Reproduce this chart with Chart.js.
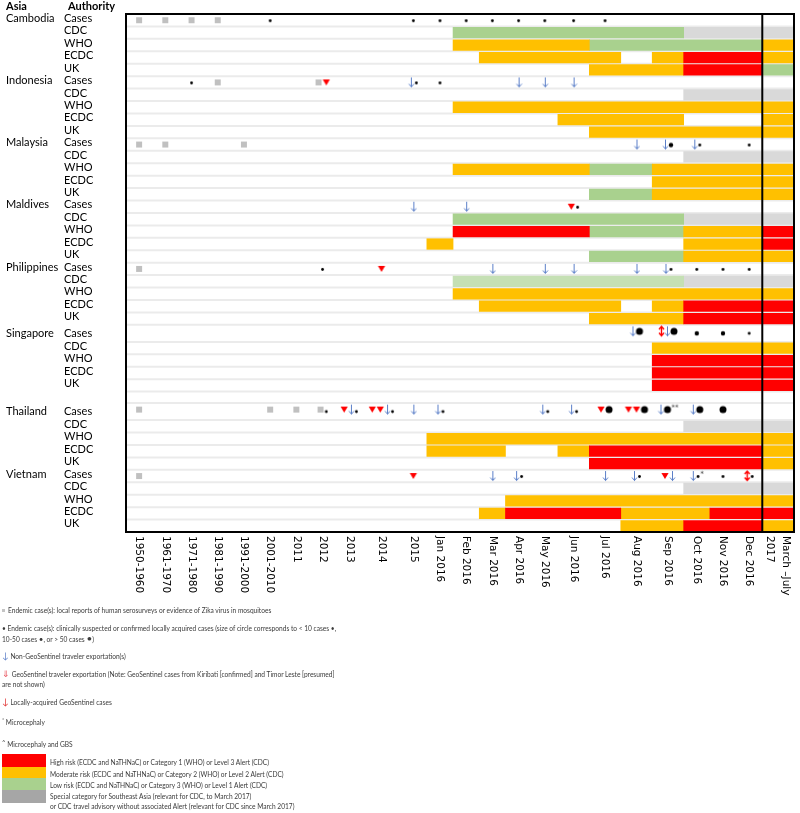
<!DOCTYPE html>
<html><head><meta charset="utf-8">
<script src="https://cdn.jsdelivr.net/npm/chart.js@4.4.1/dist/chart.umd.min.js"></script>
<style>
html,body{margin:0;padding:0;background:#fff;}
#wrap{position:relative;width:800px;height:813px;overflow:hidden;}
#c{position:absolute;left:0;top:0;}
.hdr{position:absolute;top:0px;font:bold 11px Lato,sans-serif;color:#000;line-height:12px;}
.note{position:absolute;font:6.6px Lato,sans-serif;color:#3a3a3a;white-space:nowrap;line-height:9px;}
.box{position:absolute;left:2px;width:44px;}
</style></head>
<body><div id="wrap"><canvas id="c" width="800" height="813"></canvas>
<div class="hdr" style="left:6px">Asia</div>
<div class="hdr" style="left:68px">Authority</div>

<div style="position:absolute;left:2px;top:609px;width:3px;height:3px;background:#c4c4c4"></div>
<div class="note" style="left:8px;top:606px">Endemic case(s): local reports of human serosurveys or evidence of Zika virus in mosquitoes</div>
<div class="note" style="left:2px;top:624px">• Endemic case(s): clinically suspected or confirmed locally acquired cases (size of circle corresponds to &lt; 10 cases •,</div>
<div class="note" style="left:2px;top:634px">10-50 cases <span style="font-size:8px">•</span>, or &gt; 50 cases <span style="font-size:10px;line-height:9px">•</span>)</div>
<div class="note" style="left:2px;top:651px"><span style="color:#5b7fc8;font-size:9px">↓</span> Non-GeoSentinel traveler exportation(s)</div>
<div class="note" style="left:2px;top:669px"><span style="color:#e8505b;font-size:9px">⇓</span> GeoSentinel traveler exportation (Note: GeoSentinel cases from Kiribati [confirmed] and Timor Leste [presumed]</div>
<div class="note" style="left:2px;top:680px">are not shown)</div>
<div class="note" style="left:2px;top:697px"><span style="color:#e03030;font-size:9px">↓</span> Locally-acquired GeoSentinel cases</div>
<div class="note" style="left:2px;top:716px"><span style="font-size:5px;vertical-align:3px">*</span> Microcephaly</div>
<div class="note" style="left:2px;top:737px"><span style="font-size:6px;vertical-align:3px">^</span> Microcephaly and GBS</div>

<div class="box" style="top:754px;height:13px;background:#ff0000"></div>
<div class="box" style="top:767px;height:11px;background:#ffc000"></div>
<div class="box" style="top:778px;height:12px;background:#a9d18e"></div>
<div class="box" style="top:790px;height:13px;background:#a6a6a6"></div>
<div class="note" style="left:50px;top:758px">High risk (ECDC and NaTHNaC) or Category 1 (WHO) or Level 3 Alert (CDC)</div>
<div class="note" style="left:50px;top:770px">Moderate risk (ECDC and NaTHNaC) or Category 2 (WHO) or Level 2 Alert (CDC)</div>
<div class="note" style="left:50px;top:781px">Low risk (ECDC and NaTHNaC) or Category 3 (WHO) or Level 1 Alert (CDC)</div>
<div class="note" style="left:50px;top:792px">Special category for Southeast Asia (relevant for CDC, to March 2017)</div>
<div class="note" style="left:50px;top:802px">or CDC travel advisory without associated Alert (relevant for CDC since March 2017)</div>
</div>
<script>
// ================= DATA =================
const columnLabels = ['1950-1960','1961-1970','1971-1980','1981-1990','1991-2000','2001-2010',
  '2011','2012','2013','2014','2015','Jan 2016','Feb 2016','Mar 2016','Apr 2016','May 2016',
  'Jun 2016','Jul 2016','Aug 2016','Sep 2016','Oct 2016','Nov 2016','Dec 2016',['March –July','2017']];
const countries = ['Cambodia','Indonesia','Malaysia','Maldives','Philippines','Singapore','Thailand','Vietnam'];
const authorities = ['Cases','CDC','WHO','ECDC','UK'];

// risk runs per country: [firstColumn, lastColumn, level]
// R = high, O = moderate, G = low, g = low (light shade), S = special category / advisory
const cdcRisk = [
  [[12,19,'G'],[20,23,'S']],
  [[20,23,'S']],
  [[20,23,'S']],
  [[12,19,'G'],[20,23,'S']],
  [[12,19,'g'],[20,23,'S']],
  [[19,23,'O']],
  [[20,23,'S']],
  [[20,23,'S']]
];
const whoRisk = [
  [[12,16,'O'],[17,22,'G'],[23,23,'O']],
  [[12,23,'O']],
  [[12,16,'O'],[17,18,'G'],[19,23,'O']],
  [[12,16,'R'],[17,19,'G'],[20,22,'O'],[23,23,'R']],
  [[12,23,'O']],
  [[19,23,'R']],
  [[11,23,'O']],
  [[14,23,'O']]
];
const ecdcRisk = [
  [[13,17,'O'],[19,19,'O'],[20,22,'R'],[23,23,'O']],
  [[16,19,'O'],[23,23,'O']],
  [[19,23,'O']],
  [[11,11,'O'],[20,22,'O'],[23,23,'R']],
  [[13,17,'O'],[19,19,'O'],[20,23,'R']],
  [[19,23,'R']],
  [[11,13,'O'],[16,16,'O'],[17,22,'R'],[23,23,'O']],
  [[13,13,'O'],[14,17,'R'],[18,20,'O'],[21,23,'R']]
];
const ukRisk = [
  [[17,19,'O'],[20,22,'R'],[23,23,'G']],
  [[17,23,'O']],
  [[17,18,'G'],[19,23,'O']],
  [[17,19,'G'],[20,23,'O']],
  [[17,19,'O'],[20,23,'R']],
  [[19,23,'R']],
  [[17,22,'R'],[23,23,'O']],
  [[18,19,'O'],[20,22,'R'],[23,23,'O']]
];
// case markers per country: [column, symbols]
// q serosurvey, s/m/l endemic cases (<10, 10-50, >50), a non-GeoSentinel exportation,
// d GeoSentinel exportation, t locally-acquired GeoSentinel case, * microcephaly
const caseMarks = [
  [[0,'q'],[1,'q'],[2,'q'],[3,'q'],[5,'s'],[10,'s'],[11,'s'],[12,'s'],[13,'s'],[14,'s'],[15,'s'],[16,'s'],[17,'s']],
  [[2,'s'],[3,'q'],[7,'qt'],[10,'as'],[11,'s'],[14,'a'],[15,'a'],[16,'a']],
  [[0,'q'],[1,'q'],[4,'q'],[18,'a'],[19,'am'],[20,'as'],[22,'s']],
  [[10,'a'],[12,'a'],[16,'ts']],
  [[0,'q'],[7,'s'],[9,'t'],[13,'a'],[15,'a'],[16,'a'],[18,'a'],[19,'as'],[20,'s'],[21,'s'],[22,'s']],
  [[18,'al'],[19,'dal'],[20,'m'],[21,'m'],[22,'s']],
  [[0,'q'],[5,'q'],[6,'q'],[7,'qs'],[8,'tas'],[9,'ttas'],[10,'a'],[11,'as'],[15,'as'],[16,'as'],[17,'tl'],[18,'ttl'],[19,'al**'],[20,'al'],[21,'l']],
  [[0,'q'],[10,'t'],[13,'a'],[14,'as'],[17,'a'],[18,'as'],[19,'ta'],[20,'as*'],[21,'s'],[22,'ds']]
];

// ================= LAYOUT / STYLE =================
const colWeights = [1,1,1,1,1,1,1,1,1.05,1.4,1.03,1,1,1,1,1,1.2,1.2,1.2,1.2,1,1,1,1.21];
const tallCaseRows = ['Singapore','Thailand'];
const gapAfter = ['Singapore'];
const levelColors = {R:'#ff0000', O:'#ffc000', G:'#a9d18e', g:'#c5e0b4', S:'#d9d9d9'};
const levelNames = {R:'High', O:'Moderate', G:'Low', g:'Low (light)', S:'Special'};

const colEdges = [0];
colWeights.forEach(w => colEdges.push(colEdges[colEdges.length - 1] + w));
const colCenter = i => (colEdges[i] + colEdges[i + 1]) / 2;

const rows = [];
let cursor = 0;
countries.forEach((c, ci) => {
  authorities.forEach((a, ai) => {
    const h = (ai === 0 && tallCaseRows.includes(c)) ? 1.37 : 1;
    rows.push({country: c, ci, auth: a, ai, top: cursor, bottom: cursor + h, center: cursor + h / 2,
      label: cursor + h / 2 - (h > 1 ? 0 : 0.15), tall: h > 1});
    cursor += h;
  });
  if (gapAfter.includes(c)) cursor += 0.92;
});
const totalRows = cursor;
const rowOf = (ci, ai) => rows.find(r => r.ci === ci && r.ai === ai);

// bars
const barData = {};
Object.keys(levelColors).forEach(k => barData[k] = []);
[cdcRisk, whoRisk, ecdcRisk, ukRisk].forEach((tbl, ti) => {
  tbl.forEach((runs, ci) => {
    const r = rowOf(ci, ti + 1);
    runs.forEach(([s, e, lv]) => barData[lv].push({x: [colEdges[s], colEdges[e + 1]], y: r.center}));
  });
});

// marker images
const GW = {q:7.5, s:4.5, m:5.5, l:8, a:6, t:8, d:6, '*':3.5};
function groupImage(codes, tall) {
  let W = 0; for (const ch of codes) W += GW[ch];
  const cw = Math.ceil(W) + 2, ch0 = 18;
  const cv = document.createElement('canvas'); cv.width = cw; cv.height = ch0;
  const g = cv.getContext('2d');
  let x = 1 + (cw - 2 - W) / 2;
  const my = ch0 / 2 - (tall ? 2 : 0);
  for (const ch of codes) {
    const w = GW[ch]; const mx = x + w / 2;
    if (ch === 'q') { g.fillStyle = '#c0c0c0'; g.fillRect(Math.round(mx - 3), Math.round(my - 3), 6, 6); }
    else if (ch === 's' || ch === 'm' || ch === 'l') {
      const rad = ch === 's' ? 1.4 : ch === 'm' ? 2.2 : 3.5;
      const dy = ch === 'l' ? 0 : (tall ? 2 : 0.5);
      g.fillStyle = '#000'; g.beginPath(); g.arc(mx, my + dy, rad, 0, Math.PI * 2); g.fill();
    } else if (ch === 'a' || ch === 'd') {
      g.strokeStyle = ch === 'a' ? '#5b7fc8' : '#ff0000'; g.lineWidth = ch === 'a' ? 1 : 1.4;
      const sx = Math.round(mx) + 0.5;
      g.beginPath(); g.moveTo(sx, my - 5); g.lineTo(sx, my + 4.5);
      g.moveTo(sx - 2.5, my + 1.5); g.lineTo(sx, my + 4.5); g.lineTo(sx + 2.5, my + 1.5);
      if (ch === 'd') { g.moveTo(sx - 2.5, my - 2); g.lineTo(sx, my - 5); g.lineTo(sx + 2.5, my - 2); }
      g.stroke();
    } else if (ch === 't') {
      g.fillStyle = '#ff0000'; g.beginPath();
      g.moveTo(mx - 3.6, my - 3); g.lineTo(mx + 3.6, my - 3); g.lineTo(mx, my + 3); g.closePath(); g.fill();
    } else if (ch === '*') {
      g.fillStyle = '#333'; g.font = '7px "DejaVu Sans"'; g.textAlign = 'center'; g.textBaseline = 'middle';
      g.fillText('*', mx, my - 2);
    }
    x += w;
  }
  return cv;
}
const markerPoints = [], markerImages = [];
caseMarks.forEach((list, ci) => {
  const r = rowOf(ci, 0);
  list.forEach(([col, codes]) => {
    markerPoints.push({x: colCenter(col), y: r.center});
    markerImages.push(groupImage(codes, r.tall));
  });
});

const datasets = Object.keys(levelColors).map(k => ({
  type: 'bar', label: levelNames[k], data: barData[k], backgroundColor: levelColors[k],
  borderWidth: 0, barThickness: 10.6, grouped: false, order: 2
}));
datasets.push({
  type: 'scatter', label: 'Cases', indexAxis: 'x', data: markerPoints, order: 0,
  pointRadius: 5, pointStyle: ctx => markerImages[ctx.dataIndex] || 'circle'
});

const linesPlugin = {
  id: 'gridLines',
  beforeDatasetsDraw(chart) {
    const {ctx, chartArea: a, scales: {y}} = chart;
    ctx.save(); ctx.strokeStyle = '#ebebeb'; ctx.lineWidth = 2;
    const edges = new Set();
    rows.forEach(r => { edges.add(r.top); edges.add(r.bottom); });
    edges.forEach(v => {
      if (v <= 0 || v >= totalRows) return;
      const py = y.getPixelForValue(v);
      ctx.beginPath(); ctx.moveTo(a.left, py); ctx.lineTo(a.right, py); ctx.stroke();
    });
    ctx.restore();
  },
  afterDatasetsDraw(chart) {
    const {ctx, chartArea: a, scales: {x}} = chart;
    ctx.save(); ctx.strokeStyle = '#000'; ctx.lineWidth = 2;
    ctx.strokeRect(a.left, a.top, a.right - a.left, a.bottom - a.top);
    const px = x.getPixelForValue(colEdges[23]);
    ctx.beginPath(); ctx.moveTo(px, a.top); ctx.lineTo(px, a.bottom); ctx.stroke();
    ctx.restore();
  },
  afterDraw(chart) {
    const {ctx, chartArea: a, scales: {x}} = chart;
    ctx.save(); ctx.fillStyle = '#000'; ctx.font = '10.5px "DejaVu Sans"';
    ctx.textAlign = 'left'; ctx.textBaseline = 'middle';
    columnLabels.forEach((lab, i) => {
      const lines = Array.isArray(lab) ? lab : [lab];
      const px = x.getPixelForValue(colCenter(i));
      ctx.save(); ctx.translate(px, a.bottom + 4); ctx.rotate(Math.PI / 2);
      lines.forEach((t, k) => ctx.fillText(t, 0, (k - (lines.length - 1) / 2) * 16));
      ctx.restore();
    });
    ctx.restore();
  }
};

const labelFont = {family: 'Lato', size: 11};
new Chart(document.getElementById('c'), {
  type: 'bar',
  data: {datasets},
  options: {
    indexAxis: 'y', responsive: false, animation: false, events: [],
    layout: {padding: {left: 6, right: 3, top: 14, bottom: 281}},
    plugins: {legend: {display: false}, tooltip: {enabled: false}},
    scales: {
      x: {type: 'linear', axis: 'x', offset: false, min: 0, max: colEdges[colEdges.length - 1], display: false},
      y: {type: 'linear', axis: 'y', offset: false, min: 0, max: totalRows, reverse: true, display: false},
      yAuth: {
        type: 'linear', axis: 'y', offset: false, position: 'left', weight: 1, min: 0, max: totalRows, reverse: true,
        grid: {display: false}, border: {display: false},
        afterBuildTicks: s => { s.ticks = rows.map(r => ({value: r.label})); },
        afterFit: s => { s.width = 62; },
        ticks: {autoSkip: false, crossAlign: 'far', padding: 0, font: labelFont, color: '#000',
          callback: (v, i) => rows[i] ? rows[i].auth : ''}
      },
      yCountry: {
        type: 'linear', axis: 'y', offset: false, position: 'left', weight: 2, min: 0, max: totalRows, reverse: true,
        grid: {display: false}, border: {display: false},
        afterBuildTicks: s => { s.ticks = rows.filter(r => r.ai === 0).map(r => ({value: r.label})); },
        afterFit: s => { s.width = 58; },
        ticks: {autoSkip: false, crossAlign: 'far', padding: 0, font: labelFont, color: '#000',
          callback: (v, i) => countries[i]}
      }
    }
  },
  plugins: [linesPlugin]
});
</script>
</body></html>
